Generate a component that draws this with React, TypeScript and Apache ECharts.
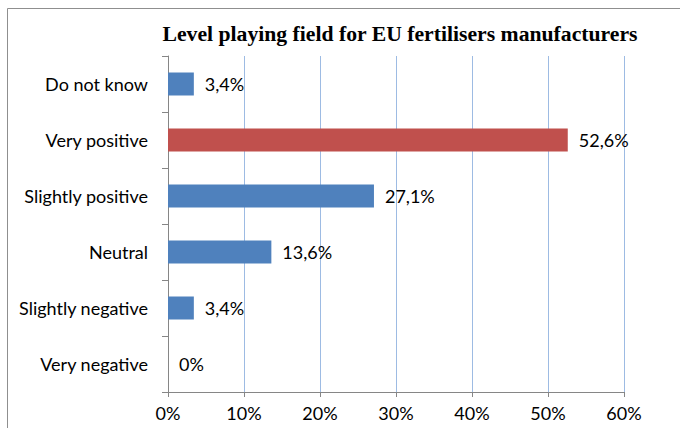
import React, { useEffect, useRef } from "react";
import * as echarts from "echarts";

const title = "Level playing field for EU fertilisers manufacturers";
const categories = ["Do not know", "Very positive", "Slightly positive", "Neutral", "Slightly negative", "Very negative"];
const values = [3.4, 52.6, 27.1, 13.6, 3.4, 0];
const barColors = ["#4F81BD", "#C0504D", "#4F81BD", "#4F81BD", "#4F81BD", "#4F81BD"];
const xMin = 0;
const xMax = 60;
const xStep = 10;

export default function App() {
  const ref = useRef<HTMLDivElement>(null);
  useEffect(() => {
    if (!ref.current) return;
    const chart = echarts.init(ref.current, null, { renderer: "svg" });
    const font = "Lato, 'Liberation Sans', sans-serif";
    chart.setOption({
      animation: false,
      backgroundColor: "#ffffff",
      title: {
        text: title,
        left: 395,
        top: 18,
        textAlign: "center",
        textStyle: { fontFamily: "'Liberation Serif', 'Times New Roman', serif", fontWeight: "bold", fontSize: 21.7, color: "#000" },
      },
      graphic: [
        {
          type: "rect",
          shape: { x: 7.5, y: 8.5, width: 700, height: 440 },
          style: { fill: "none", stroke: "#8f8f8f", lineWidth: 1 },
          silent: true,
        },
      ],
      grid: { left: 168, right: 56, top: 56, bottom: 36, containLabel: false },
      xAxis: {
        type: "value",
        min: xMin,
        max: xMax,
        interval: xStep,
        axisLine: { show: true, lineStyle: { color: "#868686", width: 1 } },
        axisTick: { show: true, length: 5, lineStyle: { color: "#868686" } },
        splitLine: { show: true, lineStyle: { color: "#9DBBE3", width: 1 } },
        axisLabel: { formatter: "{value}%", fontFamily: font, fontSize: 18, color: "#000", margin: 12 },
      },
      yAxis: {
        type: "category",
        data: categories,
        inverse: true,
        axisLine: { show: true, lineStyle: { color: "#868686", width: 1 } },
        axisTick: { show: true, length: 6, alignWithLabel: false, lineStyle: { color: "#868686" } },
        axisLabel: { fontFamily: font, fontSize: 18, color: "#000", margin: 20 },
        splitLine: { show: false },
      },
      series: [
        {
          type: "bar",
          data: values.map((v, i) => ({ value: v, itemStyle: { color: barColors[i] } })),
          barWidth: 23,
          label: {
            show: true,
            position: "right",
            distance: 11,
            fontFamily: font,
            fontSize: 18,
            color: "#000",
            formatter: (p: any) => (p.value === 0 ? "0%" : String(p.value).replace(".", ",") + "%"),
          },
        },
      ],
    });
    return () => chart.dispose();
  }, []);
  return <div ref={ref} style={{ position: "fixed", left: 0, top: 0, width: 680, height: 428 }} />;
}
